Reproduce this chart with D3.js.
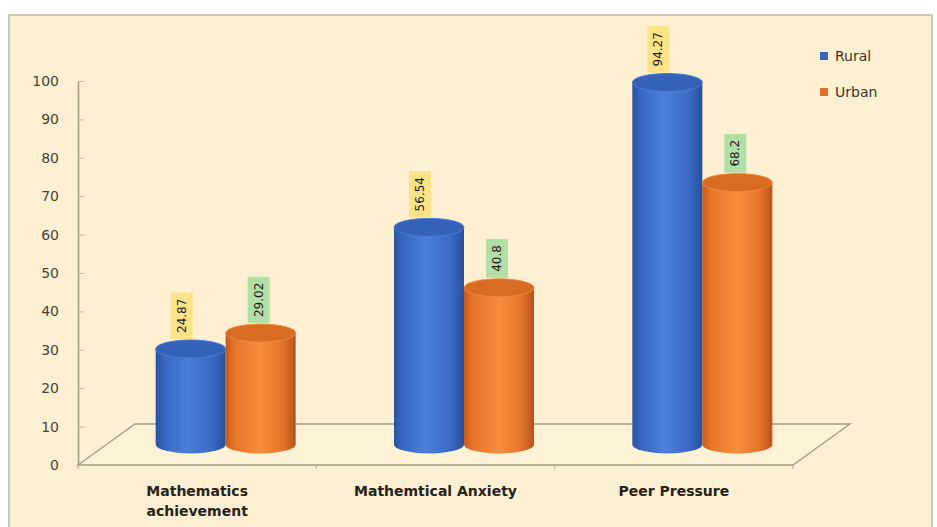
<!DOCTYPE html>
<html>
<head>
<meta charset="utf-8">
<script src="https://cdn.jsdelivr.net/npm/d3@7"></script>
<style>
  html, body { margin: 0; padding: 0; background: #ffffff; }
  svg { display: block; }
</style>
</head>
<body>
<svg id="chart" width="937" height="527"></svg>
<script>
const categories = ["Mathematics achievement", "Mathemtical Anxiety", "Peer Pressure"];
const categoryLines = [["Mathematics", "achievement"], ["Mathemtical Anxiety"], ["Peer Pressure"]];
const seriesNames = ["Rural", "Urban"];
const rural = [24.87, 56.54, 94.27];
const urban = [29.02, 40.8, 68.2];
const yTicks = [0, 10, 20, 30, 40, 50, 60, 70, 80, 90, 100];

const W = 937, H = 527;
const svg = d3.select("#chart");

// background panel
svg.append("rect").attr("x", 9).attr("y", 15).attr("width", 923).attr("height", H)
  .attr("fill", "#fdf0d2").attr("stroke", "#cfc7b6").attr("stroke-width", 2);

const front = { left: 78, right: 793, y: 465 };
const depth = { dx: 57, dy: -41 };

const x = d3.scaleBand().domain(categories).range([front.left, front.right]).padding(0);
const y = d3.scaleLinear().domain([0, 100]).range([465, 81]);
const inner = d3.scaleBand().domain(seriesNames).range([-70, 70]).padding(0);

const defs = svg.append("defs");
function grad(id, stops) {
  const g = defs.append("linearGradient").attr("id", id).attr("x1", 0).attr("x2", 1).attr("y1", 0).attr("y2", 0);
  stops.forEach(s => g.append("stop").attr("offset", s[0]).attr("stop-color", s[1]));
}
grad("gBlue", [[0, "#2a52a0"], [0.12, "#3767c2"], [0.45, "#4a7fdb"], [0.8, "#3b6bc6"], [1, "#28509c"]]);
grad("gOrange", [[0, "#c45a1a"], [0.12, "#e6742a"], [0.5, "#f98d3b"], [0.82, "#e5742b"], [1, "#b65418"]]);
const fills = { Rural: "url(#gBlue)", Urban: "url(#gOrange)" };
const topFills = { Rural: "#3462b8", Urban: "#d86c22" };
const topStroke = { Rural: "#4a7bd4", Urban: "#ee8a40" };
const legendColors = { Rural: "#3a64b4", Urban: "#e0702a" };
const labelBg = { Rural: "#fde387", Urban: "#b2dfa6" };
const labelDx = { Rural: -9, Urban: -2 };

// floor
const floorPts = [[front.left, front.y], [front.right, front.y],
  [front.right + depth.dx, front.y + depth.dy], [front.left + depth.dx, front.y + depth.dy]];
svg.append("polygon").attr("points", floorPts.map(p => p.join(",")).join(" "))
  .attr("fill", "#fdf1d6").attr("stroke", "#a39a86").attr("stroke-width", 1.3);

// category ticks on front edge
svg.append("g").selectAll("line").data(d3.range(categories.length + 1)).join("line")
  .attr("x1", i => front.left + i * x.step()).attr("x2", i => front.left + i * x.step())
  .attr("y1", front.y).attr("y2", front.y + 4)
  .attr("stroke", "#b0a690").attr("stroke-width", 1);

// y axis
const yAxis = d3.axisLeft(y).tickValues(yTicks).tickSizeInner(-6).tickSizeOuter(0).tickPadding(19);
const ga = svg.append("g").attr("transform", `translate(${front.left},0)`).call(yAxis);
ga.select(".domain").attr("stroke", "#a0977f").attr("stroke-width", 1.5);
ga.selectAll(".tick line").attr("stroke", "#c2b9a4");
ga.selectAll(".tick text").attr("fill", "#4a4232").attr("font-family", "DejaVu Sans, Verdana, sans-serif")
  .attr("font-size", 14);

// data
const data = [];
categories.forEach((c, i) => {
  data.push({ cat: c, s: "Rural", v: rural[i] });
  data.push({ cat: c, s: "Urban", v: urban[i] });
});

const rx = inner.bandwidth() / 2, ry = 9;
const gBars = svg.append("g");
data.forEach(d => {
  const cx = x(d.cat) + x.bandwidth() / 2 + depth.dx / 2 + inner(d.s) + inner.bandwidth() / 2;
  const base = y(0) + depth.dy / 2;
  const top = y(d.v) + depth.dy / 2;
  d.cx = cx; d.top = top;
  const g = gBars.append("g");
  g.append("path")
    .attr("d", `M${cx - rx},${top} L${cx - rx},${base} A${rx},${ry} 0 0 0 ${cx + rx},${base} L${cx + rx},${top} Z`)
    .attr("fill", fills[d.s]);
  g.append("ellipse").attr("cx", cx).attr("cy", top).attr("rx", rx).attr("ry", ry)
    .attr("fill", topFills[d.s]).attr("stroke", topStroke[d.s]).attr("stroke-width", 1);
});

// value labels
const gLab = svg.append("g");
data.forEach(d => {
  const lx = d.cx + labelDx[d.s];
  const bottom = d.top - ry - 1;
  const g = gLab.append("g");
  const rect = g.append("rect");
  const t = g.append("text").text(String(d.v))
    .attr("font-family", "DejaVu Sans, Verdana, sans-serif").attr("font-size", 12)
    .attr("fill", "#1a1a1a").attr("text-anchor", "middle").attr("dominant-baseline", "central");
  const len = t.node().getComputedTextLength();
  const h = len + 12, w = 22;
  const cy = bottom - h / 2;
  t.attr("transform", `translate(${lx},${cy}) rotate(-90)`);
  rect.attr("x", lx - w / 2).attr("y", bottom - h).attr("width", w).attr("height", h).attr("fill", labelBg[d.s]);
});

// category labels
const gCat = svg.append("g");
categories.forEach((c, i) => {
  const t = gCat.append("text").attr("x", x(c) + x.bandwidth() / 2).attr("y", 496)
    .attr("text-anchor", "middle").attr("font-family", "DejaVu Sans, Verdana, sans-serif")
    .attr("font-weight", "bold").attr("font-size", 14).attr("fill", "#262218");
  categoryLines[i].forEach((ln, j) => {
    t.append("tspan").attr("x", x(c) + x.bandwidth() / 2).attr("dy", j === 0 ? 0 : 20).text(ln);
  });
});

// legend
const gLeg = svg.append("g").attr("transform", "translate(820,52)");
seriesNames.forEach((s, i) => {
  const g = gLeg.append("g").attr("transform", `translate(0,${i * 36})`);
  g.append("rect").attr("width", 8).attr("height", 8).attr("fill", legendColors[s]);
  g.append("text").attr("x", 15).attr("y", 9).text(s)
    .attr("font-family", "DejaVu Sans, Verdana, sans-serif").attr("font-size", 14).attr("fill", "#3a3428");
});
</script>
</body>
</html>
